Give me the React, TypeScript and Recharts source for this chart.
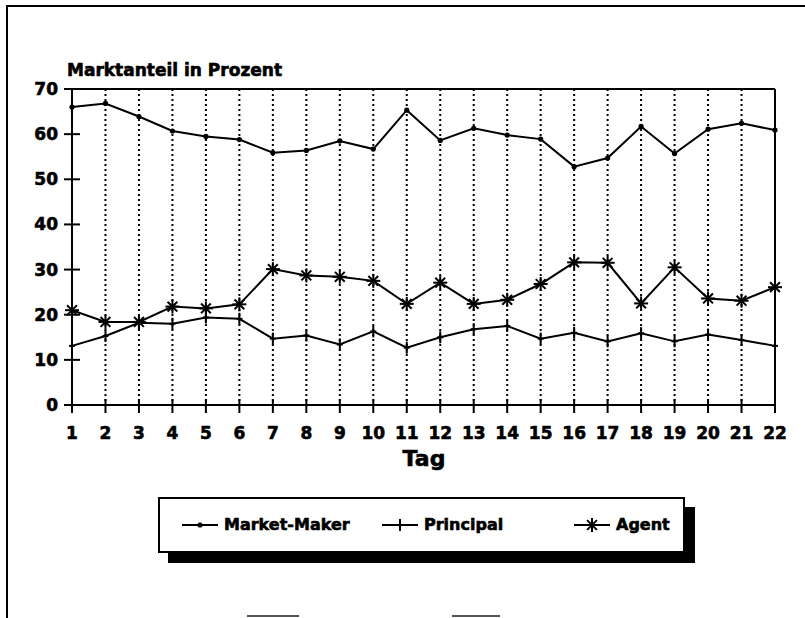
import React from 'react';
import { LineChart, Line, XAxis, YAxis, CartesianGrid, ReferenceLine } from 'recharts';

// Handelstage 1..22
const days = [1, 2, 3, 4, 5, 6, 7, 8, 9, 10, 11, 12, 13, 14, 15, 16, 17, 18, 19, 20, 21, 22];

// Marktanteile in Prozent
const marketMaker = [66.0, 66.8, 63.9, 60.7, 59.5, 58.8, 55.9, 56.4, 58.5, 56.7, 65.3, 58.6, 61.3, 59.8, 58.9, 52.8, 54.7, 61.7, 55.7, 61.1, 62.4, 60.9];
const principal = [13.1, 15.3, 18.2, 18.0, 19.4, 19.1, 14.7, 15.4, 13.4, 16.3, 12.7, 15.0, 16.8, 17.5, 14.7, 16.0, 14.1, 15.9, 14.1, 15.6, 14.4, 13.1];
const agent = [21.0, 18.4, 18.4, 21.8, 21.4, 22.3, 30.1, 28.7, 28.4, 27.5, 22.4, 27.1, 22.4, 23.3, 26.8, 31.6, 31.5, 22.5, 30.5, 23.6, 23.1, 26.1];

const yTicks = [0, 10, 20, 30, 40, 50, 60, 70];

const seriesNames = ['Market-Maker', 'Principal', 'Agent'];

const FONT = '"DejaVu Sans", sans-serif';

const data = days.map((d, i) => ({
  tag: d,
  mm: marketMaker[i],
  pr: principal[i],
  ag: agent[i],
}));

// marker shapes
const drawDot = (cx: number, cy: number, key?: string) => (
  <circle key={key} cx={cx} cy={cy} r={2.6} fill="#000" />
);
const drawPlus = (cx: number, cy: number, key?: string) => (
  <g key={key}>
    <line x1={cx} x2={cx} y1={cy - 6} y2={cy + 6} stroke="#000" strokeWidth={2} />
    <line x1={cx - 3} x2={cx + 3} y1={cy} y2={cy} stroke="#000" strokeWidth={2} />
  </g>
);
const drawStar = (cx: number, cy: number, key?: string) => {
  const r = 7;
  return (
    <g key={key} stroke="#000" strokeWidth={2}>
      <line x1={cx - r} x2={cx + r} y1={cy} y2={cy} />
      <line x1={cx} x2={cx} y1={cy - r} y2={cy + r} />
      <line x1={cx - r * 0.7} x2={cx + r * 0.7} y1={cy - r * 0.7} y2={cy + r * 0.7} />
      <line x1={cx - r * 0.7} x2={cx + r * 0.7} y1={cy + r * 0.7} y2={cy - r * 0.7} />
    </g>
  );
};

const YTick = (props: any) => {
  const { x, y, payload } = props;
  return (
    <g>
      <line x1={x + 6} x2={x + 22} y1={y} y2={y} stroke="#000" strokeWidth={2} />
      <text x={x} y={y} dy={6} textAnchor="end" fontFamily={FONT} fontWeight="bold" fontSize={17}
        fill="#000" stroke="#000" strokeWidth={0.6}>
        {payload.value}
      </text>
    </g>
  );
};

const XTick = (props: any) => {
  const { x, y, payload } = props;
  return (
    <g>
      <line x1={x} x2={x} y1={y - 18} y2={y - 4} stroke="#000" strokeWidth={2} />
      <text x={x} y={y} dy={22} textAnchor="middle" fontFamily={FONT} fontWeight="bold" fontSize={17}
        fill="#000" stroke="#000" strokeWidth={0.6}>
        {payload.value}
      </text>
    </g>
  );
};

const legendMarkers = [drawDot, drawPlus, drawStar];
const legendLeft = [22, 222, 414];

const heavy: React.CSSProperties = { WebkitTextStroke: '0.6px #000' } as React.CSSProperties;

export default function App() {
  return (
    <div style={{ position: 'relative', width: 805, height: 618, overflow: 'hidden', background: '#fff' }}>
      <style>{`body{margin:0;}`}</style>
      {/* outer frame, only left and top edges visible */}
      <div style={{ position: 'absolute', left: 6, top: 5, width: 900, height: 800, borderLeft: '2px solid #000', borderTop: '2px solid #000' }} />

      <LineChart width={805} height={618} data={data} margin={{ top: 89, right: 30, bottom: 183, left: 12 }}>
        <CartesianGrid vertical horizontal={false} stroke="#000" strokeWidth={2} strokeDasharray="2 3" />
        <XAxis
          dataKey="tag"
          type="number"
          domain={[1, 22]}
          ticks={days}
          interval={0}
          height={30}
          tickSize={8}
          tickMargin={4}
          tickLine={false}
          axisLine={{ stroke: '#000', strokeWidth: 2 }}
          tick={<XTick />}
        />
        <YAxis
          domain={[0, 70]}
          ticks={yTicks}
          interval={0}
          width={60}
          tickSize={8}
          tickMargin={6}
          tickLine={false}
          axisLine={{ stroke: '#000', strokeWidth: 2 }}
          tick={<YTick />}
        />
        <ReferenceLine y={70} stroke="#000" strokeWidth={2} />
        <ReferenceLine x={22} stroke="#000" strokeWidth={2} />
        <Line type="linear" dataKey="mm" stroke="#000" strokeWidth={2}
          dot={(p: any) => drawDot(p.cx, p.cy, `mm-${p.index}`)} activeDot={false} isAnimationActive={false} />
        <Line type="linear" dataKey="pr" stroke="#000" strokeWidth={2}
          dot={(p: any) => drawPlus(p.cx, p.cy, `pr-${p.index}`)} activeDot={false} isAnimationActive={false} />
        <Line type="linear" dataKey="ag" stroke="#000" strokeWidth={2}
          dot={(p: any) => drawStar(p.cx, p.cy, `ag-${p.index}`)} activeDot={false} isAnimationActive={false} />
      </LineChart>

      <div style={{ position: 'absolute', left: 67, top: 60, fontFamily: FONT, fontWeight: 'bold', fontSize: 17, color: '#000', ...heavy }}>
        Marktanteil in Prozent
      </div>
      <div style={{ position: 'absolute', left: 372, width: 104, textAlign: 'center', top: 446, fontFamily: FONT, fontWeight: 'bold', fontSize: 22, color: '#000', ...heavy }}>
        Tag
      </div>

      {/* legend box with drop shadow */}
      <div style={{ position: 'absolute', left: 158, top: 497, width: 523, height: 52, border: '2px solid #000', background: '#fff', boxShadow: '10px 10px 0 0 #000' }}>
        {seriesNames.map((name, i) => (
          <div key={name} style={{ position: 'absolute', left: legendLeft[i], top: 16, display: 'flex', alignItems: 'center', fontFamily: FONT, fontWeight: 'bold', fontSize: 16, color: '#000', ...heavy }}>
            <svg width={36} height={18} style={{ marginRight: 6 }}>
              <line x1={0} x2={36} y1={9} y2={9} stroke="#000" strokeWidth={2} />
              {legendMarkers[i](18, 9)}
            </svg>
            <span>{name}</span>
          </div>
        ))}
      </div>

      {/* cut-off shapes at the bottom edge */}
      <div style={{ position: 'absolute', left: 247, top: 615, width: 52, height: 2, background: '#555' }} />
      <div style={{ position: 'absolute', left: 452, top: 615, width: 48, height: 2, background: '#555' }} />
    </div>
  );
}
